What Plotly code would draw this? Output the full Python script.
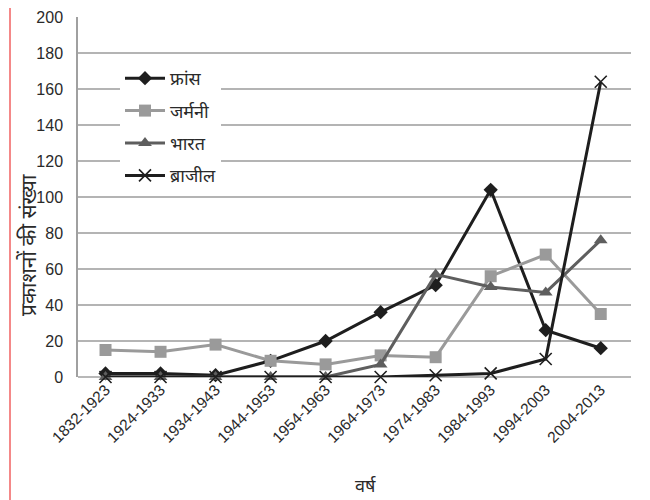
import plotly.graph_objects as go

categories = ["1832-1923", "1924-1933", "1934-1943", "1944-1953", "1954-1963",
              "1964-1973", "1974-1983", "1984-1993", "1994-2003", "2004-2013"]
france = [2, 2, 1, 9, 20, 36, 51, 104, 26, 16]
germany = [15, 14, 18, 9, 7, 12, 11, 56, 68, 35]
india = [0, 0, 0, 0, 0, 7, 57, 50, 47, 76]
brazil = [0, 0, 0, 0, 0, 0, 1, 2, 10, 164]

series_names = ["फ्रांस", "जर्मनी", "भारत", "ब्राजील"]
y_ticks = [0, 20, 40, 60, 80, 100, 120, 140, 160, 180, 200]
y_title = "प्रकाशनों की संख्या"
x_title = "वर्ष"

fig = go.Figure()
styles = [
    (france, "#1e1e1e", dict(symbol="diamond", size=11)),
    (germany, "#9a9a9a", dict(symbol="square", size=12)),
    (india, "#5e5e5e", dict(symbol="triangle-up", size=12)),
    (brazil, "#1e1e1e", dict(symbol="x-thin-open", size=12, line=dict(width=1.6, color="#1e1e1e"))),
]
for i, (vals, col, mk) in enumerate(styles):
    fig.add_trace(go.Scatter(
        x=categories, y=vals, name=series_names[i], mode="lines+markers",
        line=dict(color=col, width=3), marker=dict(color=col, **mk),
        legendgroup=str(i), cliponaxis=False,
    ))

# page body has an 8px offset
OFF = 8
W, H = 650 - OFF, 500 - OFF
L, T = 78 - OFF, 17 - OFF
R, B = W - (631 - OFF), H - (377 - OFF)
pw = W - L - R
ph = H - T - B


def px_x(x):
    return (x - OFF - L) / pw


def px_y(y):
    return (H - B - (y - OFF)) / ph


fig.update_layout(
    width=W, height=H,
    margin=dict(l=L, r=R, t=T, b=B, autoexpand=False),
    paper_bgcolor="white", plot_bgcolor="white",
    showlegend=True,
    legend=dict(x=px_x(120), y=px_y(60), xanchor="left", yanchor="top",
                bgcolor="white", font=dict(size=18, color="#2a2a2a", family="Noto Sans, sans-serif"),
                traceorder="grouped", tracegroupgap=6, itemwidth=40),
    font=dict(family="Liberation Sans, Open Sans, sans-serif", color="#2a2a2a"),
    xaxis=dict(type="category", tickangle=-45, automargin=False,
               tickfont=dict(size=15.5, color="#2a2a2a"),
               showgrid=False, showline=False, ticks="", range=[-0.5, 9.55]),
    yaxis=dict(range=[0, 200], tickvals=y_ticks, automargin=False,
               tickfont=dict(size=16, color="#2a2a2a"), ticklabelstandoff=10,
               showgrid=True, gridcolor="#b4b4b4", gridwidth=1.5, zeroline=False,
               showline=True, linecolor="#a0a0a0", linewidth=1.5, ticks=""),
)
fig.add_annotation(text=y_title, textangle=-90, xref="paper", yref="paper",
                   x=px_x(28), y=px_y(245), xanchor="center", yanchor="middle",
                   showarrow=False,
                   font=dict(size=21, color="#2a2a2a", family="Noto Sans, sans-serif"))
fig.add_annotation(text=x_title, xref="paper", yref="paper",
                   x=px_x(365), y=px_y(485), xanchor="center", yanchor="middle",
                   showarrow=False,
                   font=dict(size=18, color="#2a2a2a", family="Noto Sans, sans-serif"))
fig.add_shape(type="line", xref="paper", yref="paper", x0=0, x1=1, y0=0, y1=0,
              line=dict(color="#a0a0a0", width=1.5), layer="below")
for px in [10, 647]:
    xp = px_x(px)
    fig.add_shape(type="line", xref="paper", yref="paper", x0=xp, x1=xp,
                  y0=px_y(520), y1=px_y(-20),
                  line=dict(color="#f06060", width=1.5))

fig.write_html("out.html")
